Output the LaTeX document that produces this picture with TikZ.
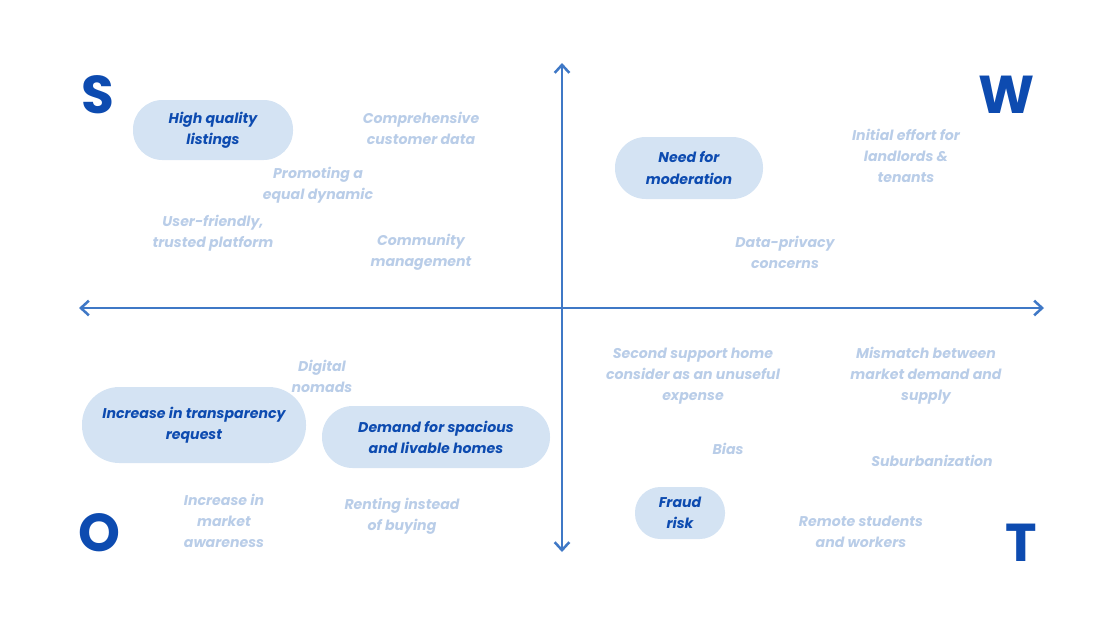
\documentclass[tikz,border=0pt]{standalone}
\usepackage{fontspec}
\setmainfont{Poppins}
\newfontfamily\letterfont{Poppins}
\usepackage{xcolor}
\usetikzlibrary{shapes.geometric, arrows.meta, positioning}
\definecolor{swotblue}{HTML}{0D4BB0}
\definecolor{axisblue}{HTML}{3F78C6}
\definecolor{bubblefill}{HTML}{D4E3F3}
\definecolor{paletext}{HTML}{B9CDE8}

\begin{document}
\begin{tikzpicture}[x=0.75pt, y=-0.75pt]
    \tikzstyle{quadletter} = [text=swotblue, font=\letterfont\bfseries\fontsize{40}{40}\selectfont, inner sep=0pt]
    \tikzstyle{keybubble} = [rectangle, fill=bubblefill, text=swotblue, align=center, inner sep=0pt, font=\bfseries\itshape\fontsize{10.6}{15.8}\selectfont]
    \tikzstyle{minortext} = [text=paletext, align=center, font=\bfseries\itshape\fontsize{10.6}{15.8}\selectfont]
    \tikzstyle{axis} = [draw=axisblue, line width=1.9pt, {Straight Barb[length=6pt, width=11pt]}-{Straight Barb[length=6pt, width=11pt]}]

    \useasboundingbox (0,0) rectangle (1120,640);

    % quadrant letters
    \node [quadletter] (s) at (98,95) {S};
    \node [quadletter] (w) at (1007,95) {W};
    \node [quadletter] (o) at (99,533) {O};
    \node [quadletter] (t) at (1021,543) {T};

    % axes
    \coordinate (top) at (562,63);
    \coordinate (bottom) at (562,552);
    \coordinate (left) at (79,308);
    \coordinate (right) at (1044,308);
    \path [axis] (top) -- (bottom);
    \path [axis] (left) -- (right);

    % strengths (sizes in pt: 1px = 0.75pt)
    \node [keybubble, minimum width=120pt, minimum height=45pt, rounded corners=22pt] (quality) at (213,130) {High quality\\listings};
    \node [minortext] (data) at (421,128) {Comprehensive\\customer data};
    \node [minortext] (equal) at (318,185) {Promoting a\\equal dynamic};
    \node [minortext] (trusted) at (213,233) {User-friendly,\\trusted platform};
    \node [minortext] (community) at (421,252) {Community\\management};

    % weaknesses
    \node [keybubble, minimum width=111pt, minimum height=46.5pt, rounded corners=23pt] (moderation) at (689,168) {Need for\\moderation};
    \node [minortext] (effort) at (906,156) {Initial effort for\\landlords \&\\tenants};
    \node [minortext] (privacy) at (785,252) {Data-privacy\\concerns};

    % opportunities
    \node [minortext] (nomads) at (322,376) {Digital\\nomads};
    \node [keybubble, minimum width=168pt, minimum height=57pt, rounded corners=28pt] (transparency) at (194,425) {Increase in transparency\\request};
    \node [keybubble, minimum width=171pt, minimum height=46.5pt, rounded corners=23pt] (spacious) at (436,437) {Demand for spacious\\and livable homes};
    \node [minortext] (awareness) at (224,521) {Increase in\\market\\awareness};
    \node [minortext] (renting) at (402,516) {Renting instead\\of buying};

    % threats
    \node [minortext] (second) at (693,376) {Second support home\\consider as an unuseful\\expense};
    \node [minortext] (mismatch) at (926,376) {Mismatch between\\market demand and\\supply};
    \node [minortext] (bias) at (728,449) {Bias};
    \node [minortext] (suburb) at (932,461) {Suburbanization};
    \node [keybubble, minimum width=67.5pt, minimum height=39pt, rounded corners=19pt] (fraud) at (680,513) {Fraud\\risk};
    \node [minortext] (remote) at (861,532) {Remote students\\and workers};
\end{tikzpicture}
\end{document}
